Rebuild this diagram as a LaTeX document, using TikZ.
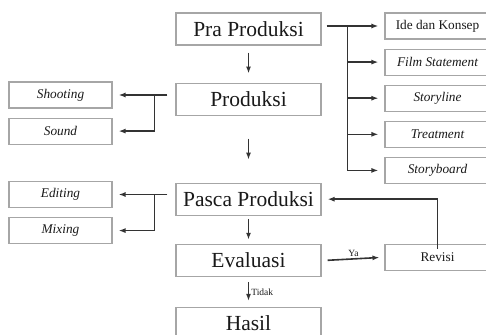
\documentclass[tikz,border=0pt]{standalone}
\usepackage{fontspec}
\setmainfont{Liberation Serif}
\usepackage{tikz}
\usetikzlibrary{shapes,arrows.meta,positioning}

\begin{document}
\begin{tikzpicture}[->,>={Latex[length=7pt,width=5pt]},x=1pt,y=-1pt,line width=1.6pt,draw=black!80,node distance=9pt]
\tikzstyle{tahap} = [rectangle, draw=gray!70, line width=1.1pt, text=black!90, minimum width=145pt, minimum height=32pt, inner sep=0pt, font=\fontsize{21.5}{24}\selectfont]
\tikzstyle{rinci} = [rectangle, draw=gray!70, line width=1.1pt, text=black!90, minimum width=103pt, minimum height=26pt, inner sep=0pt, font=\fontsize{13.3}{15}\selectfont\itshape]
\tikzstyle{ket} = [font=\fontsize{9.5}{11}\selectfont, text=black!90, inner sep=2pt]
\useasboundingbox (0,0) rectangle (486,334);
% alur utama
\node[tahap] (pra) at (248.5,29) {Pra Produksi};
\node[tahap][below=37pt of pra](produksi){Produksi};
\node[tahap][below=67pt of produksi](pasca){Pasca Produksi};
\node[tahap][below=28pt of pasca](evaluasi){Evaluasi};
\node[tahap][below=30pt of evaluasi](hasil){Hasil};
% rincian pra produksi
\node[rinci,minimum width=105pt,font=\fontsize{13.3}{15}\selectfont] (ide) at (437.5,26) {Ide dan Konsep};
\node[rinci,minimum width=105pt][below=of ide](film){Film Statement};
\node[rinci,minimum width=105pt][below=of film](storyline){Storyline};
\node[rinci,minimum width=105pt][below=of storyline](treatment){Treatment};
\node[rinci,minimum width=105pt][below=of treatment](storyboard){Storyboard};
% rincian produksi & pasca
\node[rinci] (shooting) at (60.5,95) {Shooting};
\node[rinci][below=of shooting](sound){Sound};
\node[rinci] (editing) at (60.5,194.5) {Editing};
\node[rinci][below=of editing](mixing){Mixing};
\node[rinci,minimum width=105pt,font=\fontsize{13.3}{15}\selectfont] (revisi) at (437.5,257.5) {Revisi};

\coordinate (cabang) at ([xshift=-37pt]ide.west);
\draw[-] ([xshift=5pt]pra.east |- ide) -- (cabang) -- (cabang |- storyboard);
\foreach \n in {ide,film,storyline,treatment,storyboard}
  \draw (cabang |- \n) -- ([xshift=-6pt]\n.west);

\coordinate (kiri) at ([xshift=42pt]shooting.east);
\draw[-] ([xshift=-8pt]produksi.west |- shooting) -- (kiri) -- (kiri |- sound);
\foreach \n in {shooting,sound}
  \draw (kiri |- \n) -- ([xshift=6pt]\n.east);

\coordinate (kiri2) at ([xshift=42pt]editing.east);
\draw[-] ([xshift=-8pt]pasca.west |- editing) -- (kiri2) -- (kiri2 |- mixing);
\foreach \n in {editing,mixing}
  \draw (kiri2 |- \n) -- ([xshift=6pt]\n.east);

\draw[shorten <=7pt,shorten >=9pt] (pra) -- (produksi);
\draw[shorten <=23pt,shorten >=23pt] (produksi) -- (pasca);
\draw[shorten <=3pt,shorten >=4pt] (pasca) -- (evaluasi);
\draw[shorten <=5pt,shorten >=6pt] (evaluasi) -- node[ket,right]{Tidak} (hasil);
\draw ([xshift=6pt]evaluasi.east) -- node[ket,above]{Ya} ([xshift=-5pt]revisi.west);
\draw ([yshift=-5pt]revisi.north) |- ([xshift=6pt]pasca.east);
\end{tikzpicture}
\end{document}
